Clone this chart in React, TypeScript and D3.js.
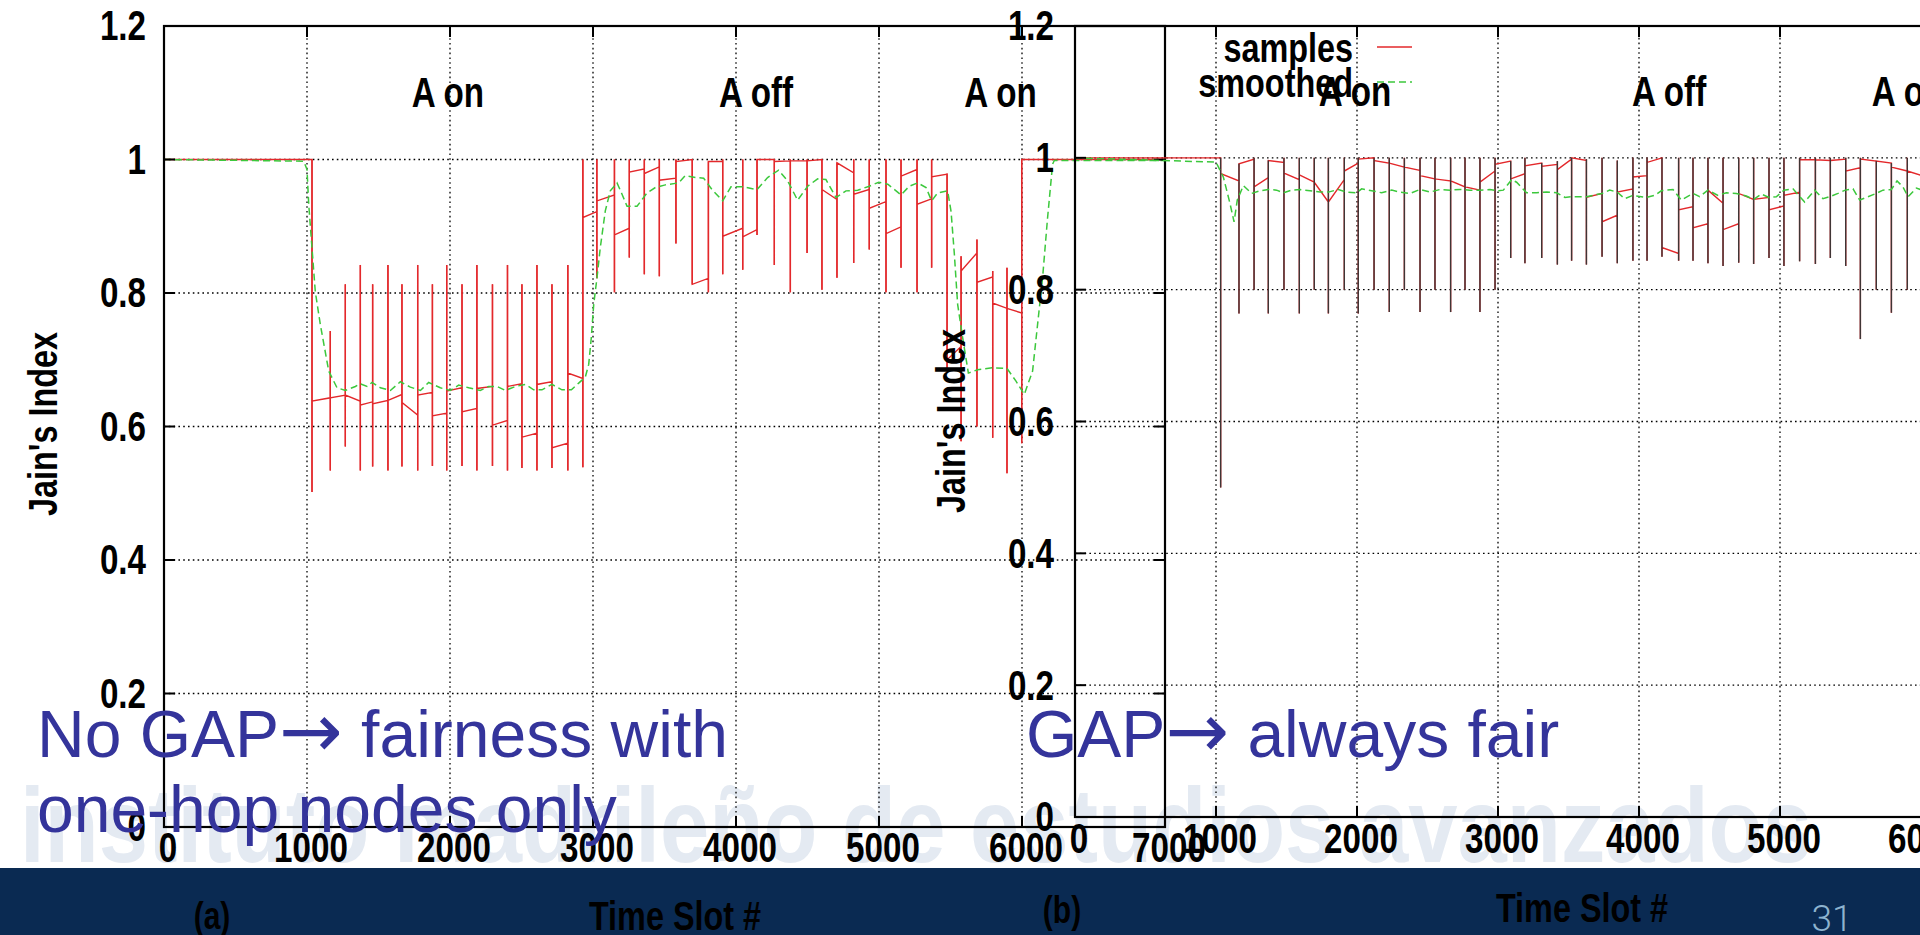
import React from 'react';
import * as d3 from 'd3';

// ---------- shared axis data ----------
const X_TICKS = [0, 1000, 2000, 3000, 4000, 5000, 6000, 7000];
const X_GRID = [1000, 2000, 3000, 4000, 5000, 6000];
const Y_TICKS = [0, 0.2, 0.4, 0.6, 0.8, 1, 1.2];
const Y_TICK_LABELS = ['0', '0.2', '0.4', '0.6', '0.8', '1', '1.2'];
const Y_GRID = [0.2, 0.4, 0.6, 0.8, 1];
const PHASE_LABELS = ['A on', 'A off', 'A on'];
const PHASE_Y = 1.1;
const LEGEND_LABELS = ['samples', 'smoothed'];

// ---------- panel (a): no GAP ----------
const A_SPIKE_X = [1035, 1163, 1268, 1373, 1459, 1566, 1664, 1774, 1877, 1977, 2084, 2188, 2297, 2402, 2503, 2608, 2713, 2824, 2929, 3027, 3150, 3254, 3359, 3464, 3580, 3694, 3807, 3907, 4047, 4147, 4268, 4380, 4497, 4601, 4706, 4823, 4932, 5049, 5154, 5266, 5368, 5476, 5574, 5685, 5795, 5895, 5998];
const A_HI = [1.0, 0.743, 0.813, 0.842, 0.813, 0.842, 0.813, 0.842, 0.813, 0.842, 0.813, 0.842, 0.813, 0.842, 0.813, 0.842, 0.813, 0.842, 1.0, 1.0, 1.0, 1.0, 1.0, 1.0, 1.0, 1.0, 0.997, 1.0, 1.0, 1.0, 1.0, 1.0, 1.0, 1.0, 0.995, 1.0, 1.0, 1.0, 1.0, 1.0, 1.0, 0.979, 0.855, 0.88, 0.833, 0.838, 1.0];
const A_LO = [0.502, 0.534, 0.57, 0.534, 0.54, 0.534, 0.54, 0.534, 0.541, 0.534, 0.541, 0.534, 0.541, 0.534, 0.538, 0.534, 0.538, 0.534, 0.539, 0.822, 0.801, 0.853, 0.828, 0.825, 0.874, 0.813, 0.801, 0.828, 0.835, 0.887, 0.842, 0.801, 0.86, 0.805, 0.823, 0.845, 0.865, 0.801, 0.838, 0.801, 0.838, 0.683, 0.578, 0.6, 0.583, 0.53, 0.575];
const A_IN = [1.0, 0.643, 0.647, 0.638, 0.637, 0.639, 0.648, 0.617, 0.651, 0.62, 0.658, 0.627, 0.66, 0.609, 0.664, 0.59, 0.667, 0.575, 0.672, 0.922, 0.947, 0.897, 0.986, 0.989, 0.972, 1.0, 0.822, 0.997, 0.897, 0.895, 1.0, 0.998, 0.998, 1.0, 0.94, 0.98, 0.955, 0.937, 0.899, 0.985, 0.941, 0.978, 0.72, 0.86, 0.824, 0.777, 0.77];
const A_OUT = [0.638, 0.643, 0.647, 0.632, 0.634, 0.639, 0.636, 0.647, 0.616, 0.653, 0.622, 0.657, 0.602, 0.66, 0.584, 0.663, 0.568, 0.68, 0.913, 0.938, 0.887, 0.981, 0.979, 0.969, 0.997, 0.813, 0.997, 0.885, 0.884, 1.0, 0.997, 0.998, 0.998, 0.955, 0.995, 0.948, 0.927, 0.889, 0.975, 0.933, 0.974, 0.7, 0.833, 0.816, 0.785, 0.777, 1.0];
const A_LEAD = 1.0;
const A_TAIL = 1.0;
const A_SMOOTH_X = [0, 977, 1000, 1012, 1035, 1058, 1093, 1152, 1210, 1268, 1338, 1373, 1420, 1455, 1513, 1583, 1653, 1723, 1793, 1851, 1932, 2002, 2061, 2131, 2212, 2270, 2329, 2387, 2457, 2527, 2585, 2643, 2713, 2783, 2849, 2900, 2946, 2970, 2988, 3005, 3028, 3051, 3086, 3121, 3168, 3203, 3238, 3308, 3378, 3436, 3506, 3599, 3646, 3716, 3774, 3832, 3907, 3965, 4047, 4147, 4221, 4298, 4361, 4431, 4501, 4571, 4629, 4699, 4769, 4851, 4932, 4998, 5061, 5154, 5212, 5270, 5329, 5368, 5410, 5480, 5504, 5527, 5550, 5585, 5625, 5690, 5795, 5895, 5958, 6016, 6074, 6109, 6144, 6179, 6214, 6226, 7000];
const A_SMOOTH_Y = [1.0, 0.9975, 0.985, 0.933, 0.867, 0.802, 0.753, 0.683, 0.658, 0.654, 0.66, 0.664, 0.66, 0.666, 0.658, 0.654, 0.667, 0.659, 0.654, 0.666, 0.658, 0.654, 0.662, 0.658, 0.654, 0.66, 0.66, 0.654, 0.66, 0.663, 0.655, 0.655, 0.663, 0.655, 0.655, 0.665, 0.674, 0.693, 0.733, 0.783, 0.823, 0.868, 0.923, 0.953, 0.965, 0.948, 0.93, 0.93, 0.95, 0.958, 0.962, 0.965, 0.976, 0.973, 0.972, 0.955, 0.938, 0.959, 0.959, 0.955, 0.973, 0.984, 0.968, 0.939, 0.96, 0.971, 0.97, 0.943, 0.953, 0.954, 0.96, 0.966, 0.963, 0.947, 0.96, 0.965, 0.958, 0.938, 0.95, 0.953, 0.922, 0.858, 0.783, 0.733, 0.68, 0.685, 0.688, 0.687, 0.668, 0.648, 0.683, 0.753, 0.823, 0.913, 0.993, 0.9985, 0.9985];
const A_PHASE_X = [1985, 4140, 5850];

// ---------- panel (b): GAP ----------
const B_SPIKE_X = [1033, 1163, 1270, 1371, 1482, 1591, 1697, 1797, 1910, 2009, 2121, 2229, 2336, 2447, 2553, 2664, 2766, 2872, 2979, 3090, 3191, 3310, 3421, 3522, 3627, 3738, 3846, 3957, 4057, 4163, 4281, 4383, 4489, 4596, 4707, 4813, 4922, 5028, 5139, 5251, 5357, 5466, 5570, 5683, 5790, 5903, 6010];
const B_HI = [1.0, 0.991, 1.0, 0.996, 1.0, 1.0, 1.0, 1.0, 1.0, 1.0, 1.0, 1.0, 1.0, 1.0, 1.0, 1.0, 1.0, 1.0, 1.0, 0.995, 1.0, 0.992, 0.995, 1.0, 0.998, 1.0, 0.996, 1.0, 1.0, 1.0, 1.0, 1.0, 1.0, 1.0, 1.0, 1.0, 1.0, 1.0, 1.0, 1.0, 1.0, 1.0, 1.0, 0.995, 0.992, 1.0, 1.0];
const B_LO = [0.5, 0.764, 0.8, 0.764, 0.8, 0.764, 0.8, 0.764, 0.8, 0.764, 0.8, 0.766, 0.8, 0.766, 0.8, 0.766, 0.8, 0.766, 0.8, 0.848, 0.84, 0.848, 0.838, 0.844, 0.838, 0.85, 0.84, 0.844, 0.844, 0.85, 0.844, 0.844, 0.84, 0.836, 0.841, 0.839, 0.848, 0.836, 0.843, 0.839, 0.848, 0.836, 0.725, 0.8, 0.765, 0.8, 0.8];
const B_IN = [1.0, 0.965, 0.998, 0.97, 0.993, 0.967, 0.963, 0.933, 0.967, 0.992, 1.0, 0.992, 0.986, 0.981, 0.968, 0.965, 0.956, 0.951, 0.98, 0.995, 0.976, 0.992, 0.99, 0.998, 0.996, 0.946, 0.913, 0.953, 0.973, 1.0, 0.855, 0.926, 0.9, 0.931, 0.9, 0.937, 0.94, 0.927, 0.948, 0.997, 0.996, 0.998, 0.985, 0.995, 0.992, 0.98, 0.973];
const B_OUT = [0.976, 0.991, 0.956, 0.996, 0.977, 0.974, 0.963, 0.933, 0.98, 0.998, 0.996, 0.992, 0.986, 0.973, 0.968, 0.965, 0.956, 0.963, 0.99, 0.968, 0.988, 0.987, 0.982, 1.0, 0.94, 0.903, 0.948, 0.971, 0.993, 0.864, 0.921, 0.894, 0.951, 0.891, 0.946, 0.937, 0.921, 0.943, 0.997, 0.997, 0.996, 0.98, 0.998, 0.995, 0.986, 0.98, 0.97];
const B_LEAD = 1.0;
const B_TAIL = 0.975;
const B_SMOOTH_X = [0, 1000, 1052, 1099, 1128, 1151, 1194, 1253, 1312, 1371, 1430, 1478, 1537, 1596, 1667, 1738, 1797, 1868, 1927, 1998, 2033, 2104, 2175, 2246, 2305, 2376, 2447, 2518, 2589, 2660, 2730, 2801, 2872, 2943, 3002, 3038, 3097, 3132, 3203, 3274, 3345, 3416, 3475, 3525, 3627, 3738, 3792, 3846, 3898, 3957, 4052, 4111, 4158, 4241, 4300, 4383, 4430, 4489, 4560, 4619, 4690, 4761, 4813, 4868, 4922, 4974, 5028, 5092, 5175, 5246, 5305, 5352, 5411, 5463, 5518, 5565, 5624, 5683, 5730, 5790, 5830, 5872, 5908, 5967, 6050];
const B_SMOOTH_Y = [1.0, 0.9935, 0.971, 0.931, 0.903, 0.936, 0.958, 0.946, 0.95, 0.952, 0.951, 0.947, 0.951, 0.952, 0.95, 0.948, 0.948, 0.952, 0.948, 0.947, 0.953, 0.95, 0.947, 0.951, 0.948, 0.946, 0.952, 0.948, 0.952, 0.951, 0.952, 0.951, 0.951, 0.952, 0.95, 0.951, 0.967, 0.963, 0.947, 0.947, 0.948, 0.947, 0.94, 0.941, 0.941, 0.946, 0.951, 0.948, 0.938, 0.943, 0.94, 0.943, 0.95, 0.952, 0.936, 0.946, 0.941, 0.951, 0.943, 0.947, 0.946, 0.942, 0.937, 0.945, 0.94, 0.941, 0.951, 0.953, 0.933, 0.951, 0.938, 0.941, 0.946, 0.951, 0.953, 0.936, 0.941, 0.946, 0.951, 0.952, 0.965, 0.956, 0.941, 0.954, 0.948];
const B_PHASE_X = [1986, 4213, 5908];

// ---------- slide text ----------
const SLIDE_LEFT_LINES = [['No GAP', ' fairness with'], ['one-hop nodes only', '']];
const SLIDE_RIGHT_LINES = [['GAP', ' always fair']];
const ARROW = '\u2192';
const WATERMARK = 'instituto madrileño de estudios avanzados';
const PAGE_NUMBER = '31';
const X_LABEL = 'Time Slot #';
const Y_LABEL = "Jain's Index";

const FONT = "'Liberation Sans', Arial, Helvetica, sans-serif";
const RED = '#e3282b';
const GREEN = '#3cc83c';

// condensed gnuplot-like text
function CText(props: {
  x: number; y: number; size?: number; sx?: number; anchor?: string; rotate?: number; children: React.ReactNode;
}) {
  const { x, y, size = 42, sx = 0.79, anchor = 'middle', rotate = 0, children } = props;
  const tr = `translate(${x},${y})${rotate ? ` rotate(${rotate})` : ''} scale(${sx},1)`;
  return (
    <text
      transform={tr}
      textAnchor={anchor as any}
      dominantBaseline="central"
      fontSize={size}
      fontWeight="bold"
      fontFamily={FONT}
      fill="#000"
    >
      {children}
    </text>
  );
}

type PanelProps = {
  id: string;
  xRange: [number, number];
  yRange: [number, number];
  spikeX: number[]; hi: number[]; lo: number[]; inY: number[]; outY: number[];
  lead: number; tail: number;
  smoothX: number[]; smoothY: number[];
  spikeColor: string;
  phaseX: number[];
  letter: string;
  yLabelX: number; yLabelY: number;
  xLabelX: number; xLabelY: number;
  letterX: number; letterY: number;
  yTickRight: number;
  xTickDy: number;
};

function Panel(p: PanelProps) {
  const x = d3.scaleLinear().domain([0, 7000]).range(p.xRange);
  const y = d3.scaleLinear().domain([0, 1.2]).range(p.yRange);
  const [x0, x1] = p.xRange;
  const [yb, yt] = p.yRange;

  const pts: [number, number][] = [[0, p.lead]];
  p.spikeX.forEach((sx, i) => {
    pts.push([sx, p.inY[i]], [sx, p.hi[i]], [sx, p.lo[i]], [sx, p.outY[i]]);
  });
  pts.push([7000, p.tail]);
  const line = d3.line<[number, number]>().x((d) => x(d[0])).y((d) => y(d[1]));
  const samplePath = line(pts) || '';
  const smoothPath = line(p.smoothX.map((v, i) => [v, p.smoothY[i]] as [number, number])) || '';

  const tick = 11;
  return (
    <g>
      <defs>
        <clipPath id={p.id}>
          <rect x={x0} y={yt} width={x1 - x0} height={yb - yt} />
        </clipPath>
      </defs>
      <g stroke="#000" strokeWidth={1.3} strokeDasharray="1.6 3.2">
        {X_GRID.map((v) => (
          <line key={'gx' + v} x1={x(v)} x2={x(v)} y1={yb} y2={yt} />
        ))}
        {Y_GRID.map((v) => (
          <line key={'gy' + v} x1={x0} x2={x1} y1={y(v)} y2={y(v)} />
        ))}
      </g>
      <g clipPath={`url(#${p.id})`} fill="none">
        <path d={samplePath} stroke={RED} strokeWidth={1.4} />
        {p.spikeX.map((sx, i) => (
          <line key={'s' + i} x1={x(sx)} x2={x(sx)} y1={y(p.hi[i])} y2={y(p.lo[i])} stroke={p.spikeColor} strokeWidth={1.4} />
        ))}
        <path d={smoothPath} stroke={GREEN} strokeWidth={1.5} strokeDasharray="7 4" />
      </g>
      <rect x={x0} y={yt} width={x1 - x0} height={yb - yt} fill="none" stroke="#000" strokeWidth={2.2} />
      <g stroke="#000" strokeWidth={2}>
        {X_TICKS.map((v) => (
          <g key={'tx' + v}>
            <line x1={x(v)} x2={x(v)} y1={yb} y2={yb - tick} />
            <line x1={x(v)} x2={x(v)} y1={yt} y2={yt + tick} />
          </g>
        ))}
        {Y_TICKS.map((v) => (
          <g key={'ty' + v}>
            <line x1={x0} x2={x0 + tick} y1={y(v)} y2={y(v)} />
            <line x1={x1} x2={x1 - tick} y1={y(v)} y2={y(v)} />
          </g>
        ))}
      </g>
      {X_TICKS.map((v) => (
        <CText key={'lx' + v} x={x(v) + 4} y={yb + p.xTickDy}>
          {v}
        </CText>
      ))}
      {Y_TICKS.map((v, i) => (
        <CText key={'ly' + v} x={p.yTickRight} y={y(v)} anchor="end">
          {Y_TICK_LABELS[i]}
        </CText>
      ))}
      {PHASE_LABELS.map((t, i) => (
        <CText key={'ph' + i} x={x(p.phaseX[i])} y={y(PHASE_Y)}>
          {t}
        </CText>
      ))}
      <CText x={p.yLabelX} y={p.yLabelY} rotate={-90} size={41}>
        {Y_LABEL}
      </CText>
      <CText x={p.xLabelX} y={p.xLabelY} size={41}>
        {X_LABEL}
      </CText>
      <CText x={p.letterX} y={p.letterY} size={38}>
        {p.letter}
      </CText>
    </g>
  );
}

export default function App() {
  return (
    <svg
      width={1920}
      height={935}
      viewBox="0 0 1920 935"
      style={{ position: 'fixed', left: 0, top: 0, display: 'block' }}
    >
      <rect x={0} y={0} width={1920} height={935} fill="#ffffff" />
      <text
        x={20}
        y={862}
        fontFamily={FONT}
        fontWeight="bold"
        fontSize={106}
        fill="#e4eaf2"
        textLength={1792}
        lengthAdjust="spacingAndGlyphs"
      >
        {WATERMARK}
      </text>
      <rect x={0} y={868} width={1920} height={67} fill="#0a2a52" />

      <Panel
        id="clipA"
        xRange={[164, 1165]}
        yRange={[827, 26]}
        spikeX={A_SPIKE_X}
        hi={A_HI}
        lo={A_LO}
        inY={A_IN}
        outY={A_OUT}
        lead={A_LEAD}
        tail={A_TAIL}
        smoothX={A_SMOOTH_X}
        smoothY={A_SMOOTH_Y}
        spikeColor={RED}
        phaseX={A_PHASE_X}
        letter="(a)"
        yLabelX={43}
        yLabelY={424}
        xLabelX={675}
        xLabelY={916}
        letterX={212}
        letterY={916}
        yTickRight={146}
        xTickDy={21}
      />
      <Panel
        id="clipB"
        xRange={[1075, 2062]}
        yRange={[817, 26]}
        spikeX={B_SPIKE_X}
        hi={B_HI}
        lo={B_LO}
        inY={B_IN}
        outY={B_OUT}
        lead={B_LEAD}
        tail={B_TAIL}
        smoothX={B_SMOOTH_X}
        smoothY={B_SMOOTH_Y}
        spikeColor="#3f3535"
        phaseX={B_PHASE_X}
        letter="(b)"
        yLabelX={951}
        yLabelY={421}
        xLabelX={1582}
        xLabelY={908}
        letterX={1062}
        letterY={910}
        yTickRight={1054}
        xTickDy={22}
      />

      <g>
        {LEGEND_LABELS.map((t, i) => (
          <CText key={t} x={1353} y={48 + i * 35} anchor="end" size={41}>
            {t}
          </CText>
        ))}
        <line x1={1377} x2={1412} y1={47} y2={47} stroke={RED} strokeWidth={1.5} />
        <line x1={1377} x2={1412} y1={82} y2={82} stroke={GREEN} strokeWidth={1.5} strokeDasharray="7 4" />
      </g>

      <g fontFamily={FONT} fontSize={66} fill="#34349b">
        {SLIDE_LEFT_LINES.map((parts, i) => (
          <text key={i} x={37} y={757 + i * 75}>
            {parts[0]}
            {parts[1] ? (
              <tspan fontFamily="'DejaVu Sans', sans-serif" fontSize={76}>
                {ARROW}
              </tspan>
            ) : null}
            {parts[1]}
          </text>
        ))}
        {SLIDE_RIGHT_LINES.map((parts, i) => (
          <text key={'r' + i} x={1026} y={757}>
            {parts[0]}
            <tspan fontFamily="'DejaVu Sans', sans-serif" fontSize={76}>
              {ARROW}
            </tspan>
            {parts[1]}
          </text>
        ))}
      </g>
      <text
        x={1832}
        y={918}
        textAnchor="middle"
        dominantBaseline="central"
        fontFamily="Roboto, 'Open Sans', sans-serif"
        fontWeight={300}
        fontSize={37}
        fill="#8db3cf"
      >
        {PAGE_NUMBER}
      </text>
    </svg>
  );
}
